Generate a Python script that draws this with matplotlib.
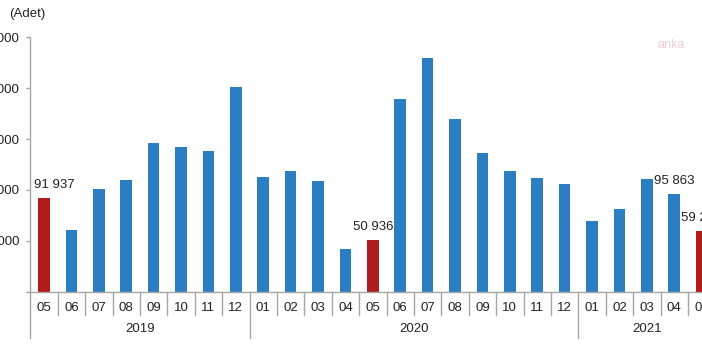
import numpy as np
import matplotlib as m
m.use('Agg')
import matplotlib.pyplot as plt
from matplotlib import transforms

# monthly values (Adet), 2019-05 .. 2021-05
months = ['05', '06', '07', '08', '09', '10', '11', '12',
          '01', '02', '03', '04', '05', '06', '07', '08', '09', '10', '11', '12',
          '01', '02', '03', '04', '05']
years = ['2019', '2020', '2021']
year_counts = [8, 12, 5]
values = [91937, 60600, 101200, 109700, 146400, 142400, 138200, 201400,
          112700, 118600, 108400, 41900, 50936, 189300, 229300, 169900, 136200,
          118600, 111700, 105500, 69700, 80900, 110400, 95863, 59236]
highlight = [0, 12, 24]
labelled = {0: '91 937', 12: '50 936', 23: '95 863', 24: '59 236'}
yticks = [0, 50000, 100000, 150000, 200000, 250000]

blue = '#2b7ec2'
red = '#b01b1b'
grey = '#a6a6a6'
txt = '#222222'

plt.rcParams['font.family'] = ['Liberation Sans', 'DejaVu Sans']

fig = plt.figure(figsize=(7.02, 3.51), dpi=100)
ax = fig.add_axes([30.3 / 702, 59.3 / 351, 685 / 702, 254.4 / 351])

x = np.arange(len(values))
colors = [red if i in highlight else blue for i in x]
ax.bar(x, values, width=0.43, color=colors, zorder=2)

for i, s in labelled.items():
    dx = 10 if i == 0 else 0
    ax.annotate(s, (i, values[i]), xytext=(dx, 7), textcoords='offset pixels',
                ha='center', va='bottom', fontsize=9.5, color=txt,
                annotation_clip=False)

ax.set_xlim(-0.5, len(values) - 0.5)
ax.set_ylim(0, 250000)
ax.set_yticks(yticks)
# the zero tick has no label in the source
ax.set_yticklabels(['{:,}'.format(v).replace(',', ' ') if v else '' for v in yticks])
ax.tick_params(axis='y', length=3, width=1, color=grey, pad=5, labelsize=9.5,
               labelcolor=txt)
ax.set_xticks(x)
ax.set_xticklabels(months)
ax.tick_params(axis='x', length=0, pad=7.5, labelsize=9.5, labelcolor=txt)

for sp in ['top', 'right']:
    ax.spines[sp].set_visible(False)
for sp in ['left', 'bottom']:
    ax.spines[sp].set_color(grey)
    ax.spines[sp].set_linewidth(1)

# separators under the axis
trans = transforms.blended_transform_factory(ax.transData, ax.transAxes)
starts = np.cumsum([0] + year_counts)
for b in np.arange(len(values) + 1) - 0.5:
    is_year = (b + 0.5) in starts
    y1 = -0.182 if is_year else -0.092
    ax.plot([b, b], [0, y1], color=grey, lw=1, transform=trans, clip_on=False)

for k, yr in enumerate(years):
    c = (starts[k] + starts[k + 1] - 1) / 2
    ax.text(c, -0.147, yr, transform=trans, ha='center', va='center',
            fontsize=9.5, color=txt)

fig.text(9 / 702, 1 - 14 / 351, '(Adet)', ha='left', va='center',
         fontsize=9.5, color=txt)
fig.text(657 / 702, 1 - 45 / 351, 'anka', ha='left', va='center',
         fontsize=9, color='#f5cdd5')

fig.savefig('out.png', dpi=100)
